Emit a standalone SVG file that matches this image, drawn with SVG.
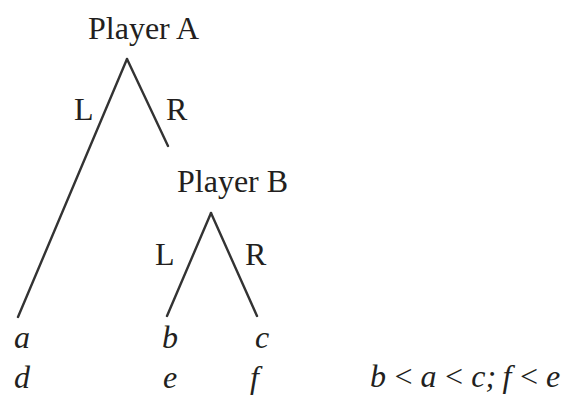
<svg xmlns="http://www.w3.org/2000/svg" width="570" height="398" viewBox="0 0 570 398">
<style>
text{font-family:"Liberation Serif","Times New Roman",serif;font-size:32px;fill:#231f20}
.i{font-style:italic}
.e{stroke:#333;stroke-width:2.4;fill:none;stroke-linecap:round}
</style>
<rect width="570" height="398" fill="#fff"/>
<g id="playerA"><text x="88" y="39" font-size="33">Player A</text></g>
<g id="playerB"><text x="177" y="192" font-size="33">Player B</text></g>
<g id="connectors">
<line class="e" x1="127" y1="59" x2="18" y2="317"/>
<line class="e" x1="127" y1="59" x2="168" y2="146"/>
<line class="e" x1="211" y1="213" x2="167" y2="316"/>
<line class="e" x1="211" y1="213" x2="257" y2="316"/>
</g>
<g id="labels">
<text x="74" y="120">L</text>
<text x="166" y="120">R</text>
<text x="155" y="265">L</text>
<text x="245" y="265">R</text>
</g>
<g id="payoffA"><text class="i" x="14" y="348">a</text><text class="i" x="14" y="388">d</text></g>
<g id="payoffB"><text class="i" x="162" y="348">b</text><text class="i" x="163" y="388">e</text></g>
<g id="payoffC"><text class="i" x="255" y="348">c</text><text class="i" x="250" y="388">f</text></g>
<g id="condition"><text class="i" x="370" y="387" word-spacing="-1.5">b &lt; a &lt; c; f &lt; e</text></g>
</svg>
